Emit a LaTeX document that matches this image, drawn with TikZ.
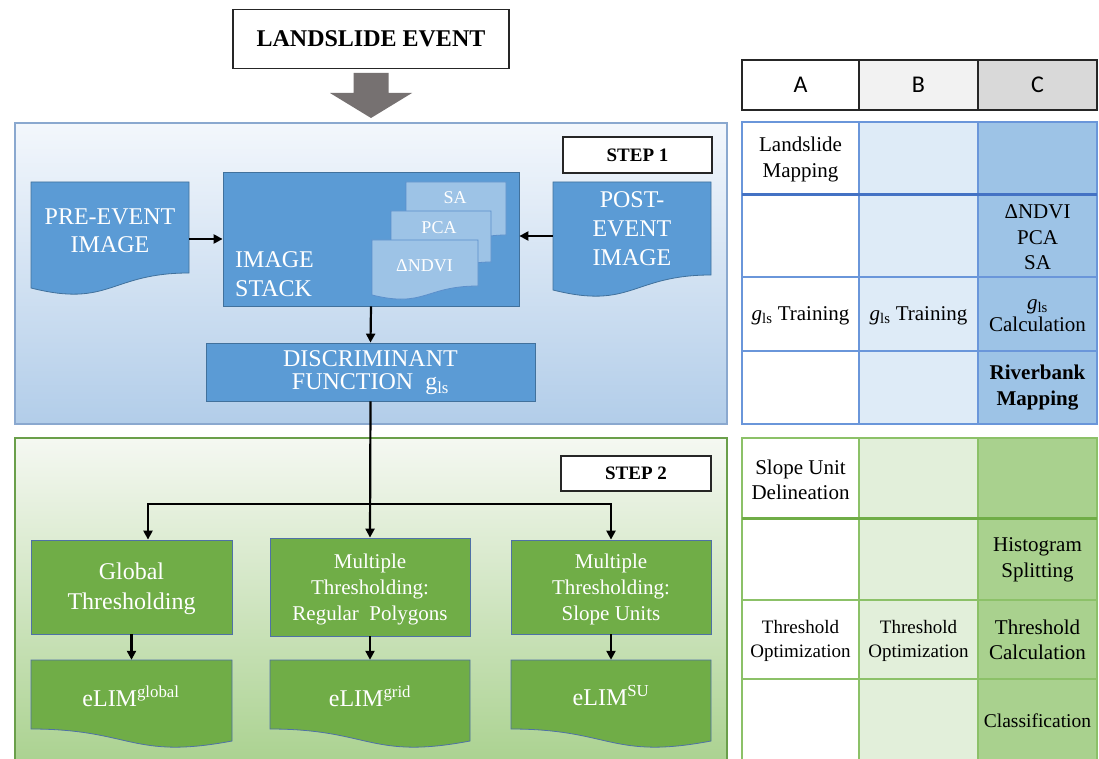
\documentclass[tikz,border=0pt]{standalone}
\usepackage{fontspec}
\setmainfont{Liberation Serif}
\newfontfamily\hdrfont{Carlito}
\usetikzlibrary{arrows.meta,calc}
\definecolor{boxblue}{HTML}{5B9BD5}
\definecolor{boxblueline}{HTML}{41719C}
\definecolor{subblue}{HTML}{9DC3E6}
\definecolor{subblueline}{HTML}{5B8FCB}
\definecolor{boxgreen}{HTML}{70AD47}
\definecolor{boxgreenline}{HTML}{4F71A6}
\definecolor{tabBlueB}{HTML}{DEEBF7}
\definecolor{tabBlueC}{HTML}{9DC3E6}
\definecolor{tabBlueLine}{HTML}{6A96DA}
\definecolor{tabBlueThick}{HTML}{4472C4}
\definecolor{tabGreenB}{HTML}{E2EFDA}
\definecolor{tabGreenC}{HTML}{A9D18E}
\definecolor{tabGreenLine}{HTML}{8CC168}
\definecolor{tabGreenThick}{HTML}{70AD47}
\definecolor{panelBlueTop}{HTML}{F3F7FC}
\definecolor{panelBlueBot}{HTML}{B2CDE9}
\definecolor{panelBlueLine}{HTML}{8AA8CF}
\definecolor{panelGreenTop}{HTML}{F5F8F2}
\definecolor{panelGreenBot}{HTML}{A9D18E}
\definecolor{panelGreenLine}{HTML}{6A9F4A}
\definecolor{bigarrow}{HTML}{767171}
\definecolor{hdrline}{HTML}{262626}
\definecolor{hdrB}{HTML}{F2F2F2}
\definecolor{hdrC}{HTML}{D9D9D9}
\newcommand{\fs}[2]{\fontsize{#1}{#2}\selectfont}
\newcommand{\docpath}[8]{\path[#1] (#2,#3) -- (#4,#3) -- (#4,#5) .. controls ({(#2+#4)/2},#6) and ({(#2+#4)/2},#7) .. (#2,#8) -- cycle;}
\newcommand{\gls}{{\itshape g}\textsubscript{ls}}
\tikzset{
  txt/.style={inner sep=0pt, align=center},
  wtxt/.style={txt, text=white},
  ttxt/.style={txt, text=black, font=\fs{21}{25.5}},
  ghost/.style={inner sep=0pt, draw=none, fill=none},
  bluebox/.style={inner sep=0pt, fill=boxblue, draw=boxblueline, line width=0.8pt},
  greenbox/.style={inner sep=0pt, fill=boxgreen, draw=boxgreenline, line width=0.8pt},
  bluedoc/.style={fill=boxblue, draw=boxblueline, line width=0.8pt},
  subdoc/.style={fill=subblue, draw=subblueline, line width=0.8pt},
  greendoc/.style={fill=boxgreen, draw=boxgreenline, line width=0.8pt},
  stepbox/.style={inner sep=0pt, fill=white, draw=hdrline, line width=1.2pt, font=\bfseries\fs{19}{22}},
  arr/.style={draw=black, line width=2.2pt, -{Triangle[length=9pt,width=9pt]}},
  hdr/.style={inner sep=0pt, draw=hdrline, line width=1.4pt, minimum height=50pt, font=\hdrfont\fs{24}{28}},
}
\begin{document}
\begin{tikzpicture}[x=1pt,y=-1pt]
\clip (0,0) rectangle (1099,759);
\fill[white] (0,0) rectangle (1099,759);

% ---------- top event ----------
\node[inner sep=0pt, draw=hdrline, line width=1.2pt, fill=white, minimum width=276pt, minimum height=59pt, font=\bfseries\fs{24}{28}] (ev) at (371,39) {LANDSLIDE EVENT};
\fill[bigarrow] (353.5,73) -- (388.5,73) -- (388.5,93) -- (412,93) -- (371,118) -- (330,93) -- (353.5,93) -- cycle;

% ---------- step 1 panel ----------
\path[top color=panelBlueTop, bottom color=panelBlueBot, draw=panelBlueLine, line width=1.5pt] (15,123) rectangle (727,424);
\node[stepbox, minimum width=149pt, minimum height=36pt] (s1) at (637.5,155) {STEP 1};

\docpath{bluedoc}{31}{182}{189}{273}{273}{308}{288}
\node[ghost, minimum width=158pt, minimum height=113pt] (pre) at (110,239) {};
\node[wtxt, font=\fs{24}{28.5}] (preT) at (110,231) {PRE-EVENT\\IMAGE};

\node[bluebox, minimum width=296pt, minimum height=134pt] (stack) at (371,239) {};
\node[wtxt, align=left, anchor=west, font=\fs{24}{29}] (stackT) at (235,274) {IMAGE\\STACK};

\docpath{subdoc}{406}{182}{506}{235}{235}{262}{250}
\node[wtxt, font=\fs{18}{21}] (saT) at (455,198) {SA};
\docpath{subdoc}{391}{211}{491}{262}{262}{290}{277}
\node[wtxt, font=\fs{18}{21}] (pcaT) at (439,228) {PCA};
\docpath{subdoc}{372}{240}{478}{286}{286}{308}{295}
\node[wtxt, font=\fs{18}{21}] (ndviT) at (424.5,266) {ΔNDVI};

\docpath{bluedoc}{553}{182}{711}{275}{275}{310}{290}
\node[ghost, minimum width=158pt, minimum height=108pt] (post) at (632,236) {};
\node[wtxt, font=\fs{24}{29}] (postT) at (632,229) {POST-\\EVENT\\IMAGE};

\node[bluebox, minimum width=329pt, minimum height=58pt] (disc) at (370.5,372) {};
\node[wtxt, font=\fs{24}{23}] (discT) at (370.5,373) {DISCRIMINANT\\FUNCTION\ \ g\textsubscript{ls}};

\draw[arr] (pre.east) -- (pre.east -| stack.west);
\draw[arr] (post.west) -- (post.west -| stack.east);
\draw[arr] (stack.south) -- (disc.north);

% ---------- step 2 panel ----------
\path[top color=panelGreenTop, bottom color=panelGreenBot, draw=panelGreenLine, line width=1.5pt] (15,438) rectangle (727,770);
\node[stepbox, minimum width=150pt, minimum height=35pt] (s2) at (636,473.5) {STEP 2};

\node[greenbox, minimum width=201pt, minimum height=94pt] (b1) at (131.5,587) {};
\node[wtxt, font=\fs{24}{30}] (b1T) at (131.5,589) {Global\\Thresholding};
\node[greenbox, minimum width=200pt, minimum height=98pt] (b2) at (370,587) {};
\node[wtxt, font=\fs{21}{26}] (b2T) at (370,589) {Multiple\\Thresholding:\\Regular\ \ Polygons};
\node[greenbox, minimum width=200pt, minimum height=94pt] (b3) at (611,587) {};
\node[wtxt, font=\fs{21}{26}] (b3T) at (611,589) {Multiple\\Thresholding:\\Slope Units};

\docpath{greendoc}{31}{660}{232}{741}{760}{729}{729}
\node[ghost, minimum width=201pt, minimum height=84pt] (d1) at (131.5,702) {};
\node[wtxt, font=\fs{24}{28}] (d1T) at (131,696) {eLIM\textsuperscript{global}};
\docpath{greendoc}{270}{660}{470}{741}{760}{729}{729}
\node[ghost, minimum width=200pt, minimum height=84pt] (d2) at (370,702) {};
\node[wtxt, font=\fs{24}{28}] (d2T) at (370,696) {eLIM\textsuperscript{grid}};
\docpath{greendoc}{511}{660}{711}{741}{760}{729}{729}
\node[ghost, minimum width=200pt, minimum height=84pt] (d3) at (611,702) {};
\node[wtxt, font=\fs{24}{28}] (d3T) at (611,696) {eLIM\textsuperscript{SU}};

\coordinate (j) at (370,504);
\draw[arr] (disc.south) -- (b2.north);
\draw[arr] (j) -| ([xshift=16.5pt]b1.north);
\draw[arr] (j) -| (b3.north);
\draw[arr] (b1.south) -- (d1.north);
\draw[arr] (b2.south) -- (d2.north);
\draw[arr] (b3.south) -- (d3.north);

% ---------- table header ----------
\node[hdr, fill=white, minimum width=117pt] (hA) at (800.5,85) {A};
\node[hdr, fill=hdrB, minimum width=119pt] (hB) at (918.5,85) {B};
\node[hdr, fill=hdrC, minimum width=119pt] (hC) at (1037.5,85) {C};

% ---------- blue table ----------
\fill[white] (742,122) rectangle (859,424);
\fill[tabBlueB] (859,122) rectangle (978,424);
\fill[tabBlueC] (978,122) rectangle (1097,424);
\draw[tabBlueLine, line width=1.2pt] (742,122) rectangle (1097,424);
\draw[tabBlueLine, line width=1.2pt] (859,122) -- (859,424) (978,122) -- (978,424) (742,277) -- (1097,277) (742,351) -- (1097,351);
\draw[tabBlueThick, line width=3pt] (742,195) -- (1097,195);
\node[ttxt] (tA1) at (800.5,159.5) {Landslide\\Mapping};
\node[ttxt] (tC2) at (1037.5,237.5) {ΔNDVI\\PCA\\SA};
\node[ttxt] (tA3) at (800.5,316) {\gls\ Training};
\node[ttxt] (tB3) at (918.5,316) {\gls\ Training};
\node[ttxt, font=\fs{21}{22}] (tC3) at (1037.5,316) {\gls\\Calculation};
\node[ttxt, font=\bfseries\fs{21}{25.5}] (tC4) at (1037.5,387.5) {Riverbank\\Mapping};

% ---------- green table ----------
\fill[white] (742,438) rectangle (859,770);
\fill[tabGreenB] (859,438) rectangle (978,770);
\fill[tabGreenC] (978,438) rectangle (1097,770);
\draw[tabGreenLine, line width=1.2pt] (742,770) -- (742,438) -- (1097,438) -- (1097,770);
\draw[tabGreenLine, line width=1.2pt] (859,438) -- (859,770) (978,438) -- (978,770) (742,600) -- (1097,600) (742,679) -- (1097,679);
\draw[tabGreenThick, line width=3pt] (742,518) -- (1097,518);
\node[ttxt] (gA1) at (800.5,480) {Slope Unit\\Delineation};
\node[ttxt] (gC2) at (1037.5,560) {Histogram\\Splitting};
\node[ttxt, font=\fs{19}{24}] (gA3) at (800.5,641) {Threshold\\Optimization};
\node[ttxt, font=\fs{19}{24}] (gB3) at (918.5,641) {Threshold\\Optimization};
\node[ttxt] (gC3) at (1037.5,640) {Threshold\\Calculation};
\node[ttxt, font=\fs{19.5}{24}] (gC4) at (1037.5,721) {Classification};
\end{tikzpicture}
\end{document}
